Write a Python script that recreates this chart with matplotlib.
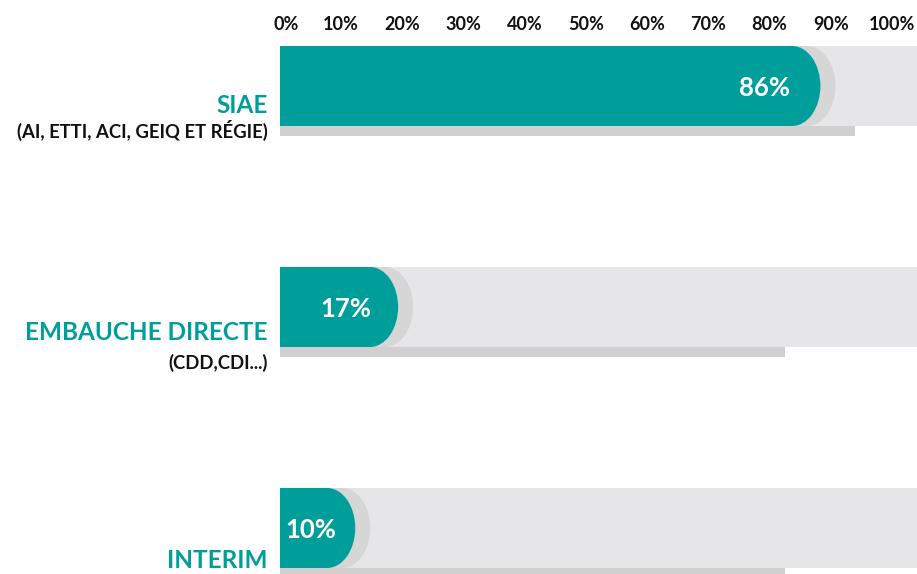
import matplotlib
matplotlib.use("Agg")
import matplotlib.pyplot as plt
from matplotlib.patches import Ellipse
from matplotlib.transforms import ScaledTranslation

# ---- data ----
categories = ["SIAE", "EMBAUCHE DIRECTE", "INTERIM"]
subtitles = ["(AI, ETTI, ACI, GEIQ ET RÉGIE)", "(CDD,CDI...)", ""]
values = [86, 17, 10]
value_labels = ["86%", "17%", "10%"]
track_values = [94, 82.5, 82.5]
tick_values = [0, 10, 20, 30, 40, 50, 60, 70, 80, 90, 100]
tick_labels = ["0%", "10%", "20%", "30%", "40%", "50%", "60%", "70%", "80%", "90%", "100%"]

# ---- style ----
TEAL = "#009E9B"
BG = "#E6E6E8"
STRIP = "#D0D0D0"
SHADOW = "#D6D6D6"
FONT = "Lato"

W, H = 917, 574
px_per_pct = 6.12
x0_px = 280
bar_h = 80 / 221
strip_h = 10 / 221
cap = 4.6          # cap width in %
shadow_off = 2.45  # shadow offset in %
label_dx = [-6.8, -6.3, -4.9]
main_dy = [0.09, 0.115, 0.145]
sub_dy = [0.2, 0.255, 0.0]

fig = plt.figure(figsize=(W / 100, H / 100), dpi=100)
top_px = 40
ax = fig.add_axes([x0_px / W, 0, 1 - x0_px / W, (H - top_px) / H])
xmax = (W - x0_px) / px_per_pct
ax.set_xlim(0, xmax)
ax.set_ylim((H - 86) / 221, (top_px - 86) / 221)

ys = list(range(len(categories)))

# background tracks
ax.barh(ys, [xmax + 5] * len(ys), height=bar_h, color=BG, left=0, zorder=1, linewidth=0)
# dark strip under track
ax.barh([y + bar_h / 2 + strip_h / 2 for y in ys], track_values, height=strip_h,
        color=STRIP, zorder=1, linewidth=0)

for y, v in zip(ys, values):
    body = v - cap / 2
    ax.barh(y, body + shadow_off, height=bar_h, color=SHADOW, zorder=2, linewidth=0)
    ax.add_patch(Ellipse((body + shadow_off, y), 2 * cap, bar_h, color=SHADOW, zorder=2, linewidth=0))
    ax.barh(y, body, height=bar_h, color=TEAL, zorder=3, linewidth=0)
    ax.add_patch(Ellipse((body, y), 2 * cap, bar_h, color=TEAL, zorder=3, linewidth=0))

for y, v, lab, dx in zip(ys, values, value_labels, label_dx):
    ax.text(v + dx, y + 0.01, lab, ha="center", va="center", color="white",
            fontsize=18.5, fontweight="bold", family=FONT, zorder=5)

for y, cat, sub, dy, sdy in zip(ys, categories, subtitles, main_dy, sub_dy):
    ax.text(-2.0, y + dy, cat, ha="right", va="center", color=TEAL, fontsize=17.5,
            fontweight="bold", family=FONT, clip_on=False)
    if sub:
        ax.text(-2.0, y + sdy, sub, ha="right", va="center",
                color="#111111", fontsize=13.3, fontweight="bold", family=FONT, clip_on=False)

ax.xaxis.tick_top()
ax.set_xticks(tick_values)
ax.set_xticklabels(tick_labels, fontsize=13, fontweight="bold", family=FONT, color="#111111")
ax.tick_params(axis="x", length=0, pad=5)
first = ax.get_xticklabels()[0]
first.set_transform(first.get_transform() + ScaledTranslation(6 / 100, 0, fig.dpi_scale_trans))
ax.set_yticks([])
for s in ax.spines.values():
    s.set_visible(False)
ax.patch.set_alpha(0)

fig.savefig("out.png", dpi=100)
